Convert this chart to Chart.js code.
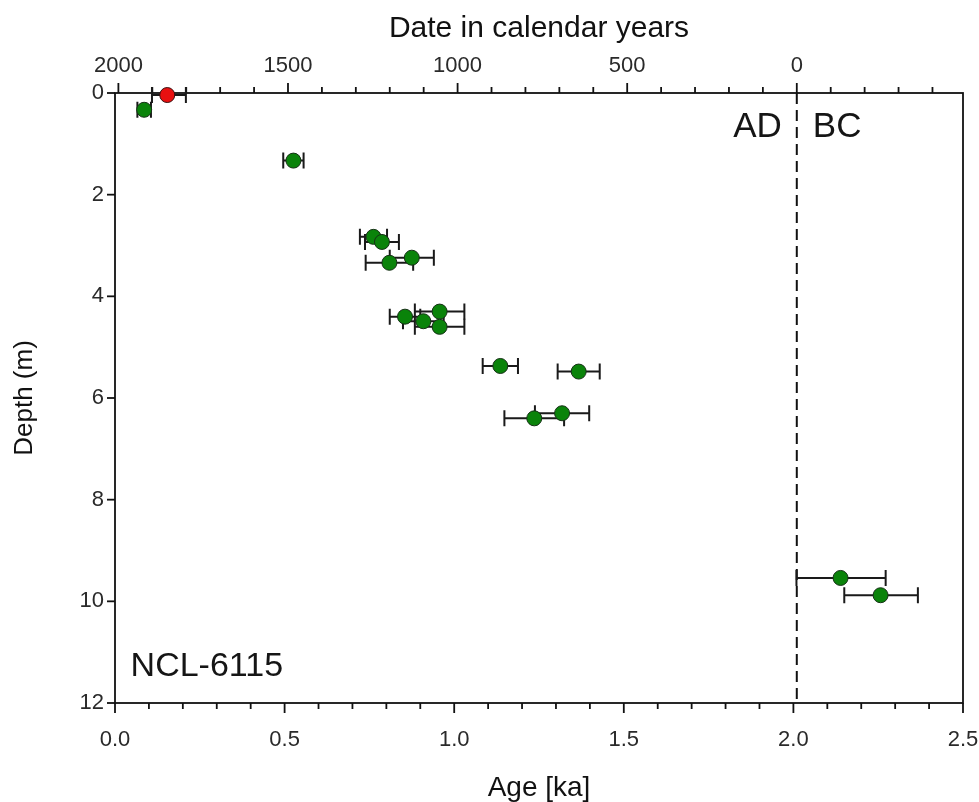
<!DOCTYPE html>
<html>
<head>
<meta charset="utf-8">
<title>NCL-6115 age-depth</title>
<script src="https://cdn.jsdelivr.net/npm/chart.js@4.4.1/dist/chart.umd.min.js"></script>
<style>
  html, body { margin: 0; padding: 0; background: #fff; }
  #wrap { width: 979px; height: 802px; }
</style>
</head>
<body>
<div id="wrap"><canvas id="ageDepth" width="979" height="802"></canvas></div>
<script>
// --- Data ---
// dated samples: age in ka, depth in m, error range in ka
const ageKa   = [0.086, 0.526, 0.762, 0.787, 0.809, 0.875, 0.855, 0.909, 0.957, 0.957, 1.136, 1.367, 1.236, 1.318, 2.139, 2.257];
const depthM  = [0.33, 1.33, 2.83, 2.93, 3.34, 3.24, 4.40, 4.49, 4.30, 4.60, 5.37, 5.48, 6.40, 6.30, 9.54, 9.88];
const ageMin  = [0.066, 0.496, 0.722, 0.737, 0.739, 0.810, 0.810, 0.849, 0.884, 0.884, 1.084, 1.305, 1.148, 1.238, 2.009, 2.150];
const ageMax  = [0.106, 0.556, 0.802, 0.837, 0.879, 0.940, 0.900, 0.969, 1.030, 1.030, 1.188, 1.429, 1.324, 1.398, 2.272, 2.367];

// surface sample (red)
const topAgeKa  = [0.154];
const topDepthM = [0.04];
const topAgeMin = [0.109];
const topAgeMax = [0.209];

// axes
const AGE_RANGE   = [0, 2.5];
const DEPTH_RANGE = [0, 12];
const REF_YEAR    = 2010;   // calendar year at age 0
const ERA_AGE     = 2.01;   // AD / BC boundary in ka
const YEAR_TICKS  = [2000, 1900, 1800, 1700, 1600, 1500, 1400, 1300, 1200, 1100, 1000,
                     900, 800, 700, 600, 500, 400, 300, 200, 100, 0, -100, -200, -300, -400];

const SITE_LABEL = 'NCL-6115';

// --- Helpers ---
const FONT = "'Liberation Sans', Arial, sans-serif";

function toPoints(xs, ys, lo, hi) {
    return xs.map((x, i) => ({ x: x, y: ys[i], xMin: lo[i], xMax: hi[i] }));
}

function isMultiple(v, step) {
    const r = v / step;
    return Math.abs(r - Math.round(r)) < 1e-6;
}

// frame, ticks, era line and error bars
const ageDepthPlugin = {
    id: 'ageDepth',
    beforeDatasetsDraw(chart) {
        const { ctx, chartArea: a, scales } = chart;
        const x = scales.x, y = scales.y, yr = scales.x2;
        ctx.save();

        // frame
        ctx.strokeStyle = '#111';
        ctx.lineWidth = 1.8;
        ctx.strokeRect(a.left, a.top, a.right - a.left, a.bottom - a.top);

        // bottom ticks (0.1 ka, longer on 0.5)
        x.ticks.forEach(t => {
            const px = x.getPixelForValue(t.value);
            const len = isMultiple(t.value, 0.5) ? 10 : 6;
            ctx.beginPath();
            ctx.moveTo(px, a.bottom);
            ctx.lineTo(px, a.bottom + len);
            ctx.stroke();
        });

        // top ticks (100 yr, longer on 500)
        yr.ticks.forEach(t => {
            const px = yr.getPixelForValue(t.value);
            const len = isMultiple(t.value, 500) ? 10 : 6;
            ctx.beginPath();
            ctx.moveTo(px, a.top);
            ctx.lineTo(px, a.top - len);
            ctx.stroke();
        });

        // left ticks
        y.ticks.forEach(t => {
            const py = y.getPixelForValue(t.value);
            ctx.beginPath();
            ctx.moveTo(a.left, py);
            ctx.lineTo(a.left - 8, py);
            ctx.stroke();
        });

        // AD / BC boundary
        const bx = x.getPixelForValue(ERA_AGE);
        ctx.setLineDash([11, 6]);
        ctx.lineWidth = 2;
        ctx.beginPath();
        ctx.moveTo(bx, a.top);
        ctx.lineTo(bx, a.bottom);
        ctx.stroke();
        ctx.setLineDash([]);

        // error bars
        ctx.strokeStyle = '#1a1a1a';
        ctx.lineWidth = 2;
        chart.data.datasets.forEach(ds => {
            ds.data.forEach(p => {
                const x0 = x.getPixelForValue(p.xMin);
                const x1 = x.getPixelForValue(p.xMax);
                const py = y.getPixelForValue(p.y);
                ctx.beginPath();
                ctx.moveTo(x0, py); ctx.lineTo(x1, py);
                ctx.moveTo(x0, py - 8); ctx.lineTo(x0, py + 8);
                ctx.moveTo(x1, py - 8); ctx.lineTo(x1, py + 8);
                ctx.stroke();
            });
        });
        ctx.restore();
    },
    afterDatasetsDraw(chart) {
        const { ctx, scales } = chart;
        const x = scales.x, y = scales.y;
        ctx.save();
        ctx.fillStyle = '#151515';
        ctx.textBaseline = 'alphabetic';

        const bx = x.getPixelForValue(ERA_AGE);
        const eraY = y.getPixelForValue(0.87);
        ctx.font = '35px ' + FONT;
        ctx.textAlign = 'right';
        ctx.fillText('AD', bx - 15, eraY);
        ctx.textAlign = 'left';
        ctx.fillText('BC', bx + 16, eraY);

        ctx.font = '34px ' + FONT;
        ctx.textAlign = 'left';
        ctx.fillText(SITE_LABEL, x.getPixelForValue(0.046), y.getPixelForValue(11.47));
        ctx.restore();
    }
};

// --- Chart ---
const tickFont = { family: FONT, size: 22 };
const tickColor = '#2a2a2a';
const noGrid = { display: false, drawTicks: false };

function fixHorizontal(h) {
    return s => { s.height = h; s.paddingLeft = 0; s.paddingRight = 16; };
}

new Chart(document.getElementById('ageDepth'), {
    type: 'scatter',
    data: {
        datasets: [
            {
                label: 'Dated samples',
                data: toPoints(ageKa, depthM, ageMin, ageMax),
                backgroundColor: '#0a830a',
                borderColor: '#163016',
                borderWidth: 1,
                pointRadius: 7.5,
                clip: false
            },
            {
                label: 'Surface',
                data: toPoints(topAgeKa, topDepthM, topAgeMin, topAgeMax),
                backgroundColor: '#e81010',
                borderColor: '#3a1010',
                borderWidth: 1,
                pointRadius: 7.5,
                clip: false
            }
        ]
    },
    options: {
        responsive: false,
        animation: false,
        devicePixelRatio: 1,
        layout: { padding: 0 },
        plugins: {
            legend: { display: false },
            tooltip: { enabled: false }
        },
        scales: {
            x: {
                type: 'linear',
                position: 'bottom',
                min: AGE_RANGE[0],
                max: AGE_RANGE[1],
                afterFit: fixHorizontal(99),
                grid: noGrid,
                border: { display: false },
                ticks: {
                    stepSize: 0.1,
                    autoSkip: false,
                    maxRotation: 0,
                    padding: 24,
                    color: tickColor,
                    font: tickFont,
                    callback: v => isMultiple(v, 0.5) ? v.toFixed(1) : ''
                },
                title: {
                    display: true,
                    text: 'Age [ka]',
                    color: '#111',
                    font: { family: FONT, size: 28, lineHeight: 1.0 },
                    padding: { top: 0, bottom: 0 }
                }
            },
            x2: {
                type: 'linear',
                position: 'top',
                reverse: true,
                min: REF_YEAR - AGE_RANGE[1] * 1000,
                max: REF_YEAR - AGE_RANGE[0] * 1000,
                afterFit: fixHorizontal(93),
                afterBuildTicks: s => { s.ticks = YEAR_TICKS.map(v => ({ value: v })); },
                grid: noGrid,
                border: { display: false },
                ticks: {
                    autoSkip: false,
                    maxRotation: 0,
                    padding: 14,
                    color: tickColor,
                    font: tickFont,
                    callback: v => isMultiple(v, 500) ? String(v) : ''
                },
                title: {
                    display: true,
                    text: 'Date in calendar years',
                    color: '#111',
                    font: { family: FONT, size: 30 },
                    padding: { top: 11, bottom: 0 }
                }
            },
            y: {
                type: 'linear',
                position: 'left',
                reverse: true,
                min: DEPTH_RANGE[0],
                max: DEPTH_RANGE[1],
                afterFit: s => { s.width = 115; },
                grid: noGrid,
                border: { display: false },
                ticks: {
                    stepSize: 2,
                    autoSkip: false,
                    padding: 11,
                    color: tickColor,
                    font: tickFont
                },
                title: {
                    display: true,
                    text: 'Depth (m)',
                    color: '#111',
                    font: { family: FONT, size: 26 },
                    padding: { top: 9, bottom: 0 }
                }
            }
        }
    },
    plugins: [ageDepthPlugin]
});
</script>
</body>
</html>
